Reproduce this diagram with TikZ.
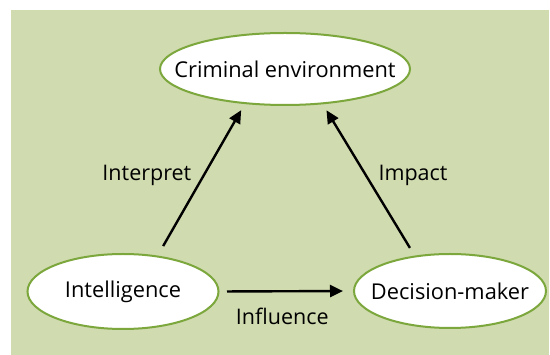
\documentclass[tikz,border=0pt]{standalone}
\usepackage{fontspec}
\setmainfont{Open Sans}
\usetikzlibrary{shapes.geometric,arrows.meta}
\definecolor{paneback}{RGB}{208,219,176}
\definecolor{ovalgreen}{RGB}{124,167,60}

\begin{document}
\begin{tikzpicture}[x=1pt, y=-1pt,
	 ovalnode/.style={ellipse, draw=ovalgreen, line width=2pt, fill=white, inner xsep=-30pt, inner ysep=0pt, font=\fontsize{21.8}{26}\selectfont},
	 link/.style={-{Triangle[length=13pt, width=12pt]}, line width=2.4pt},
	 linklabel/.style={font=\fontsize{21.5}{26}\selectfont}]
	    \useasboundingbox (0,0) rectangle (550,355);
	    \fill[paneback] (11,10) rectangle (549,355);
	    \node at (285,69) [ovalnode, minimum width=250, minimum height=72] (env) {Criminal environment};
	    \node at (123,291.5) [ovalnode, minimum width=191, minimum height=75] (intel) {Intelligence};
	    \node at (450,291) [ovalnode, minimum width=192, minimum height=74] (dec) {Decision-maker};
	    \draw[link, shorten <=11pt, shorten >=7pt] (intel.46.5) -- node[linklabel, left=8pt, pos=0.53]{Interpret} (env.221.6);
	    \draw[link, shorten <=9pt, shorten >=7pt] (dec.135) -- node[linklabel, right=8pt, pos=0.53]{Impact} (env.317.6);
	    \draw[link, shorten <=7.5pt, shorten >=10pt] (intel.east) -- node[linklabel, below=12pt, xshift=-4pt]{Influence} (dec.west);
\end{tikzpicture}
\end{document}
